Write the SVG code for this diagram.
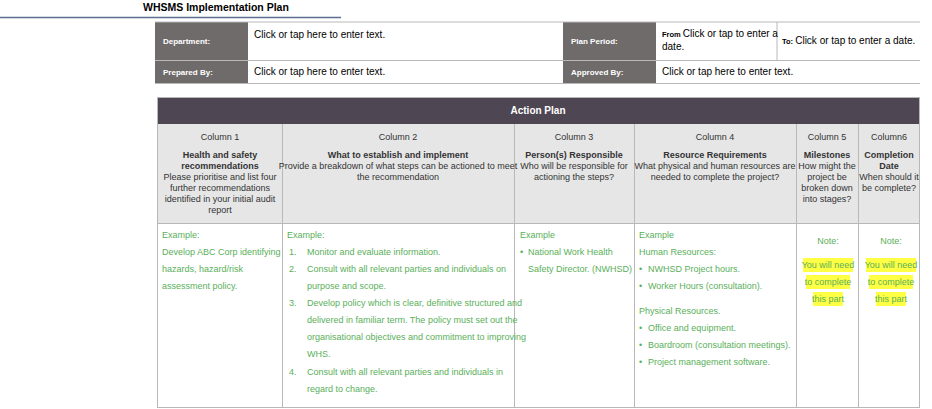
<svg xmlns="http://www.w3.org/2000/svg" width="932" height="409" viewBox="0 0 932 409">
<style>
text{font-family:"Liberation Sans",Arial,sans-serif}
.lab{fill:#6f6b6b}
.lt{fill:#fff;font-size:8px;font-weight:bold}
.ct{fill:#000;font-size:10px}
.hc{fill:#333;font-size:9px;text-anchor:middle}
.hb{font-weight:bold}
.g{fill:#5aaf5a;font-size:9px}
.gm{fill:#5aaf5a;font-size:9px;text-anchor:middle}
.hl{fill:#ffff44}
.ln{stroke:#b8b8b8;stroke-width:1;fill:none}
</style>
<g id="title">
<text x="143" y="11" font-size="10.5" font-weight="bold" fill="#000">WHSMS Implementation Plan</text>
<line x1="0" y1="17.5" x2="341" y2="17.5" stroke="#5a6e8e" stroke-width="1.5"/>
</g>
<g id="info-table">
<rect x="155" y="22" width="765" height="61" fill="#fff"/>
<rect class="lab" x="155" y="22" width="93" height="38"/>
<rect class="lab" x="155" y="61" width="93" height="22"/>
<rect class="lab" x="563" y="22" width="93" height="38"/>
<rect class="lab" x="563" y="61" width="93" height="22"/>
<line class="ln" x1="155" y1="22" x2="920" y2="22"/>
<line class="ln" x1="155" y1="60.5" x2="920" y2="60.5"/>
<line class="ln" x1="155" y1="83.5" x2="920" y2="83.5"/>
<line class="ln" x1="777" y1="22" x2="777" y2="60"/>
<text class="lt" x="163" y="44">Department:</text>
<text class="lt" x="163" y="75">Prepared By:</text>
<text class="lt" x="571" y="44">Plan Period:</text>
<text class="lt" x="571" y="75">Approved By:</text>
<text class="ct" x="254" y="38">Click or tap here to enter text.</text>
<text class="ct" x="254" y="75">Click or tap here to enter text.</text>
<text class="ct" x="662" y="75">Click or tap here to enter text.</text>
<text class="ct" x="662" y="37"><tspan font-size="7.5" font-weight="bold">From </tspan>Click or tap to enter a</text>
<text class="ct" x="662" y="50">date.</text>
<text class="ct" x="782" y="44"><tspan font-size="7.5" font-weight="bold">To: </tspan>Click or tap to enter a date.</text>
</g>
<g id="action-table">
<rect x="157" y="97" width="763" height="27" fill="#4f4654"/>
<text x="538" y="114" font-size="10" font-weight="bold" fill="#fff" text-anchor="middle">Action Plan</text>
<rect x="157" y="124" width="763" height="99" fill="#e6e6e6"/>
<rect x="157" y="223" width="763" height="185" fill="#fff"/>
<rect class="ln" x="157.5" y="97.5" width="762" height="310"/>
<line class="ln" x1="157" y1="223.5" x2="920" y2="223.5"/>
<g class="ln">
<line x1="282.5" y1="124" x2="282.5" y2="408"/>
<line x1="514.5" y1="124" x2="514.5" y2="408"/>
<line x1="634.5" y1="124" x2="634.5" y2="408"/>
<line x1="796.5" y1="124" x2="796.5" y2="408"/>
<line x1="858.5" y1="124" x2="858.5" y2="408"/>
</g>
</g>
<g id="col1">
<text class="hc" x="220" y="140">Column 1</text>
<text class="hc hb" x="220" y="158">Health and safety</text>
<text class="hc hb" x="220" y="169">recommendations</text>
<text class="hc" x="220" y="180">Please prioritise and list four</text>
<text class="hc" x="220" y="191">further recommendations</text>
<text class="hc" x="220" y="202">identified in your initial audit</text>
<text class="hc" x="220" y="213">report</text>
<text class="g" x="162" y="238">Example:</text>
<text class="g" x="162" y="255">Develop ABC Corp identifying</text>
<text class="g" x="162" y="272">hazards, hazard/risk</text>
<text class="g" x="162" y="289">assessment policy.</text>
</g>
<g id="col2">
<text class="hc" x="398" y="140">Column 2</text>
<text class="hc hb" x="398" y="158">What to establish and implement</text>
<text class="hc" x="398" y="169">Provide a breakdown of what steps can be actioned to meet</text>
<text class="hc" x="398" y="180">the recommendation</text>
<text class="g" x="287" y="238">Example:</text>
<text class="g" x="289" y="255">1.</text><text class="g" x="307" y="255">Monitor and evaluate information.</text>
<text class="g" x="289" y="272">2.</text><text class="g" x="307" y="272">Consult with all relevant parties and individuals on</text>
<text class="g" x="307" y="289">purpose and scope.</text>
<text class="g" x="289" y="306">3.</text><text class="g" x="307" y="306">Develop policy which is clear, definitive structured and</text>
<text class="g" x="307" y="323">delivered in familiar term. The policy must set out the</text>
<text class="g" x="307" y="340">organisational objectives and commitment to improving</text>
<text class="g" x="307" y="357">WHS.</text>
<text class="g" x="289" y="375">4.</text><text class="g" x="307" y="375">Consult with all relevant parties and individuals in</text>
<text class="g" x="307" y="392">regard to change.</text>
</g>
<g id="col3">
<text class="hc" x="574" y="140">Column 3</text>
<text class="hc hb" x="574" y="158">Person(s) Responsible</text>
<text class="hc" x="574" y="169">Who will be responsible for</text>
<text class="hc" x="574" y="180">actioning the steps?</text>
<text class="g" x="520" y="238">Example</text>
<text class="g" x="520" y="255">•</text><text class="g" x="528" y="255">National Work Health</text>
<text class="g" x="528" y="272">Safety Director. (NWHSD)</text>
</g>
<g id="col4">
<text class="hc" x="715" y="140">Column 4</text>
<text class="hc hb" x="715" y="158">Resource Requirements</text>
<text class="hc" x="715" y="169">What physical and human resources are</text>
<text class="hc" x="715" y="180">needed to complete the project?</text>
<text class="g" x="639" y="238">Example</text>
<text class="g" x="639" y="255">Human Resources:</text>
<text class="g" x="639" y="272">•</text><text class="g" x="648" y="272">NWHSD Project hours.</text>
<text class="g" x="639" y="289">•</text><text class="g" x="648" y="289">Worker Hours (consultation).</text>
<text class="g" x="639" y="314">Physical Resources.</text>
<text class="g" x="639" y="331">•</text><text class="g" x="648" y="331">Office and equipment.</text>
<text class="g" x="639" y="348">•</text><text class="g" x="648" y="348">Boardroom (consultation meetings).</text>
<text class="g" x="639" y="365">•</text><text class="g" x="648" y="365">Project management software.</text>
</g>
<g id="col5">
<text class="hc" x="827" y="140">Column 5</text>
<text class="hc hb" x="827" y="158">Milestones</text>
<text class="hc" x="827" y="169">How might the</text>
<text class="hc" x="827" y="180">project be</text>
<text class="hc" x="827" y="191">broken down</text>
<text class="hc" x="827" y="202">into stages?</text>
<text class="gm" x="828" y="244">Note:</text>
<rect class="hl" x="803" y="258" width="50" height="14"/>
<rect class="hl" x="806" y="275" width="44" height="14"/>
<rect class="hl" x="813" y="292" width="30" height="14"/>
<text class="gm" x="828" y="268">You will need</text>
<text class="gm" x="828" y="285">to complete</text>
<text class="gm" x="828" y="302">this part</text>
</g>
<g id="col6">
<text class="hc" x="889" y="140">Column6</text>
<text class="hc hb" x="889" y="158">Completion</text>
<text class="hc hb" x="889" y="169">Date</text>
<text class="hc" x="889" y="180">When should it</text>
<text class="hc" x="889" y="191">be complete?</text>
<text class="gm" x="891" y="244">Note:</text>
<rect class="hl" x="866" y="258" width="50" height="14"/>
<rect class="hl" x="869" y="275" width="44" height="14"/>
<rect class="hl" x="876" y="292" width="30" height="14"/>
<text class="gm" x="891" y="268">You will need</text>
<text class="gm" x="891" y="285">to complete</text>
<text class="gm" x="891" y="302">this part</text>
</g>
</svg>
